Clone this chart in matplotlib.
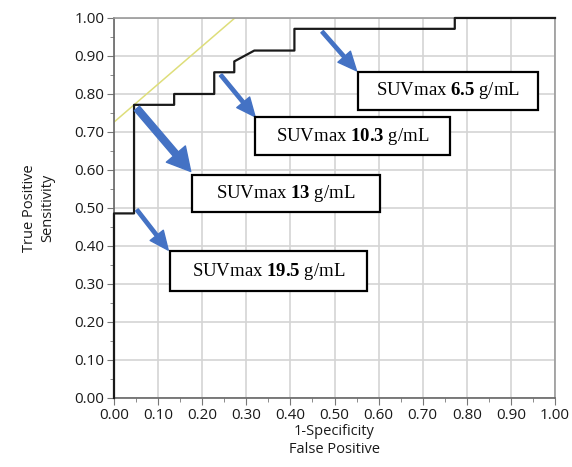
import matplotlib
matplotlib.use("Agg")
import matplotlib.pyplot as plt
import numpy as np
from matplotlib.patches import Rectangle

# ROC steps (35 positives, 22 negatives)
fp_counts = [0, 0, 1, 1, 3, 3, 5, 5, 6, 6, 7, 9, 9, 17, 17, 22]
tp_counts = [0, 17, 17, 27, 27, 28, 28, 30, 30, 31, 32, 32, 34, 34, 35, 35]
n_neg = 22
n_pos = 35

# optimal cutoff (tangent line with slope 1)
cut_fp = 1
cut_tp = 27

ticks = np.arange(0, 1.01, 0.1)

# labels: bold value, arrow tail, arrow tip, box centre, box size (data units)
labels = ["6.5", "10.3", "13", "19.5"]
arrow_tail = [(0.472, 0.964), (0.242, 0.850), (0.052, 0.762), (0.052, 0.495)]
arrow_tip = [(0.550, 0.861), (0.320, 0.740), (0.174, 0.596), (0.123, 0.389)]
box_center = [(0.758, 0.808), (0.541, 0.689), (0.390, 0.539), (0.350, 0.334)]
box_size = [(0.409, 0.100), (0.442, 0.100), (0.426, 0.097), (0.447, 0.103)]
thick = [False, False, True, False]

plt.rcParams['mathtext.fontset'] = 'custom'
plt.rcParams['mathtext.rm'] = 'Liberation Serif'
plt.rcParams['mathtext.bf'] = 'Liberation Serif:bold'

fig = plt.figure(figsize=(5.72, 4.67), dpi=100)
ax = fig.add_axes([0.1993, 0.1478, 0.7710, 0.8137])

fpr = np.array(fp_counts) / n_neg
tpr = np.array(tp_counts) / n_pos

ax.set_xlim(0, 1)
ax.set_ylim(0, 1)

ax.grid(True, color='#d4d4d4', lw=1.2)
ax.set_axisbelow(True)

# yellow tangent line
x0 = cut_fp / n_neg
y0 = cut_tp / n_pos
xs = np.array([0, 1 - (y0 - x0)])
ax.plot(xs, xs + (y0 - x0), color='#dede7a', lw=1.1, zorder=2)

ax.plot(fpr, tpr, color='#1a1a1a', lw=1.6, zorder=3, clip_on=False)

for lab, tail, tip, c, s, th in zip(labels, arrow_tail, arrow_tip, box_center, box_size, thick):
    if th:
        style = 'simple,head_length=1.1,head_width=1.2,tail_width=0.32'
    else:
        style = 'simple,head_length=0.9,head_width=0.8,tail_width=0.16'
    ax.annotate('', xy=tip, xytext=tail,
                arrowprops=dict(arrowstyle=style, mutation_scale=15, color='#4472C4',
                                shrinkA=0, shrinkB=0), zorder=4)
    ax.add_patch(Rectangle((c[0] - s[0] / 2, c[1] - s[1] / 2), s[0], s[1],
                           facecolor='white', edgecolor='black', lw=1.6, zorder=5))
    ax.text(c[0], c[1], r"SUVmax $\mathbf{" + lab + r"}$ g/mL", ha='center', va='center',
            fontsize=13.5, family='Liberation Serif', zorder=6)

ax.set_xticks(ticks)
ax.set_yticks(ticks)
ax.set_xticks(np.arange(0.05, 1, 0.1), minor=True)
ax.set_yticks(np.arange(0.05, 1, 0.1), minor=True)
ax.set_xticklabels(["%.2f" % t for t in ticks])
ax.set_yticklabels(["%.2f" % t for t in ticks])
ax.tick_params(which='major', length=5, color='#777777', labelsize=11,
               labelcolor='#1a1a1a', pad=2, labelfontfamily='Open Sans')
ax.tick_params(which='minor', length=3, color='#777777')

for side in ['left', 'bottom']:
    ax.spines[side].set_color('#666666')
    ax.spines[side].set_linewidth(1.2)
for side in ['top', 'right']:
    ax.spines[side].set_color('#999999')
    ax.spines[side].set_linewidth(1.2)

ax.set_xlabel("1-Specificity\nFalse Positive", fontsize=10.5, family='Open Sans',
              color='#1a1a1a', labelpad=1, linespacing=1.25)
ax.set_ylabel("True Positive\nSensitivity", fontsize=10.5, family='Open Sans',
              color='#1a1a1a', labelpad=14, linespacing=1.25)

fig.savefig("out.png", dpi=100)
